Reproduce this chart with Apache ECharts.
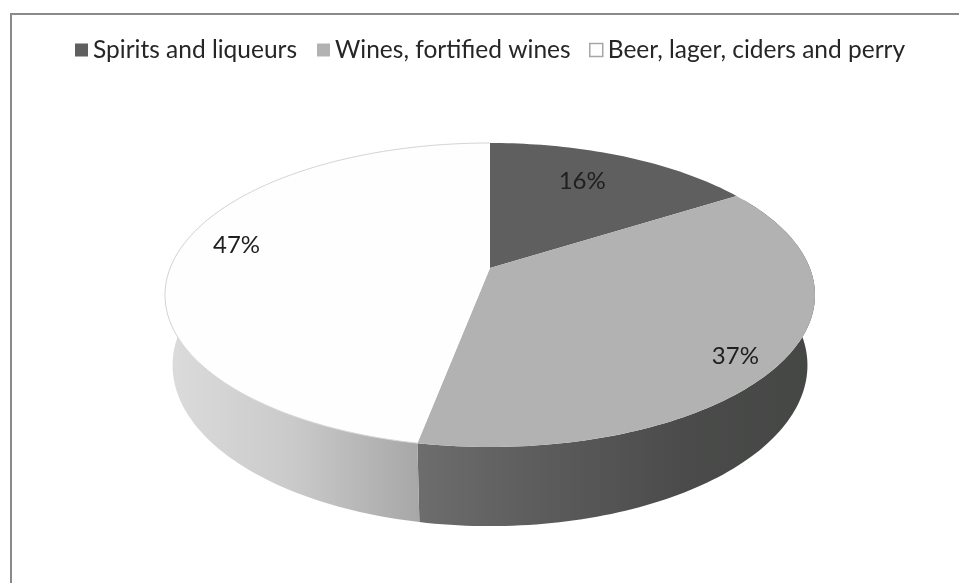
<!DOCTYPE html>
<html>
<head>
<meta charset="utf-8">
<script src="https://cdn.jsdelivr.net/npm/echarts@6/dist/echarts.min.js"></script>
<style>
  html, body { margin: 0; padding: 0; background: #ffffff; }
  #chart { width: 959px; height: 583px; }
</style>
</head>
<body>
<div id="chart"></div>
<script>
// Share of alcohol consumption by drink type (%)
const categories = ['Spirits and liqueurs', 'Wines, fortified wines', 'Beer, lager, ciders and perry'];
const shares = [16, 37, 47];

// Styling for each slice
const topColors = ['#5f5f5f', '#b2b2b2', '#fefefe'];
const wallColors = [
  ['#4a4a4a', '#3a3a3a'],
  ['#6d6d6d', '#5b5b5b', '#4a4b4a', '#454745'],
  ['#dcdcdc', '#cacaca', '#a7a7a7']
];
const rimColors = [null, null, '#d4d4d4'];
const legendBorder = [null, null, '#a6a6a6'];
const legendLeft = [75, 317, 589];
const labelRadius = [0.735, 0.88, 0.83];
const labelShift = [-2.8, 3.8, 5.6];

// Perspective view of a tilted disc: angles run clockwise from the back edge
const CX = 490, CY = 268, FOCAL = 1598.5, DIST = 4.998;
const SIN_T = 0.4603, COS_T = 0.8877, THICK = 0.25;
function project(thetaDeg, r, h) {
  const t = thetaDeg * Math.PI / 180;
  const u = r * Math.sin(t), w = r * Math.cos(t);
  const depth = w * COS_T - h * SIN_T;
  const up = h * COS_T + w * SIN_T;
  const k = FOCAL / (DIST + depth);
  return [CX + k * u, CY - k * up];
}

const total = shares.reduce((a, b) => a + b, 0);
const starts = [];
shares.reduce((acc, v, i) => { starts[i] = acc; return acc + v; }, 0);

function arc(a0, a1, r, h) {
  const steps = Math.max(6, Math.ceil((a1 - a0) / 1.2));
  const pts = [];
  for (let s = 0; s <= steps; s++) pts.push(project(a0 + (a1 - a0) * s / steps, r, h));
  return pts;
}

function renderSlice(i) {
  return function (params, api) {
    const a0 = api.value(0) / total * 360;
    const a1 = (api.value(0) + api.value(1)) / total * 360;
    const children = [];

    // outer wall, only the part turned toward the viewer
    const lo = Math.max(a0, 60), hi = Math.min(a1, 300);
    if (hi > lo) {
      const pts = arc(lo, hi, 1, 0).concat(arc(lo, hi, 1, -THICK).reverse());
      const stops = wallColors[i].map((c, j, arr) => ({ offset: j / (arr.length - 1), color: c }));
      children.push({
        type: 'polygon', z2: 1,
        shape: { points: pts },
        style: { fill: new echarts.graphic.LinearGradient(0, 0, 1, 0, stops) }
      });
    }

    // top face
    const topPts = [project(0, 0, 0)].concat(arc(a0, a1, 1, 0));
    children.push({
      type: 'polygon', z2: 10,
      shape: { points: topPts },
      style: { fill: topColors[i] }
    });
    if (rimColors[i]) {
      children.push({
        type: 'polyline', z2: 11,
        shape: { points: arc(a0, a1, 1, 0) },
        style: { fill: null, stroke: rimColors[i], lineWidth: 1 }
      });
    }

    // percentage label
    const mid = (a0 + a1) / 2 + labelShift[i];
    const p = project(mid, labelRadius[i], 0);
    children.push({
      type: 'text', z2: 20,
      x: p[0], y: p[1],
      style: {
        text: api.value(1) + '%',
        fill: '#1f1f1f',
        font: '24px Lato',
        align: 'center',
        verticalAlign: 'middle'
      }
    });
    return { type: 'group', children };
  };
}

const chart = echarts.init(document.getElementById('chart'), null, { renderer: 'canvas' });

chart.setOption({
  backgroundColor: '#ffffff',
  animation: false,
  graphic: [{
    type: 'rect',
    shape: { x: 11, y: 14, width: 1200, height: 900 },
    style: { fill: null, stroke: '#8a8a8a', lineWidth: 2 },
    silent: true
  }],
  legend: categories.map((name, i) => ({
    data: [{
      name: name,
      icon: 'rect',
      itemStyle: {
        color: topColors[i],
        borderColor: legendBorder[i] || topColors[i],
        borderWidth: legendBorder[i] ? 1.5 : 0
      }
    }],
    left: legendLeft[i],
    top: 37,
    padding: 0,
    itemWidth: 13,
    itemHeight: 13,
    selectedMode: false,
    textStyle: { fontFamily: 'Lato', fontSize: 24.5, color: '#262626', lineHeight: 26 }
  })),
  series: categories.map((name, i) => ({
    type: 'custom',
    name: name,
    coordinateSystem: 'none',
    itemStyle: { color: topColors[i] },
    renderItem: renderSlice(i),
    data: [[starts[i], shares[i]]]
  }))
});
</script>
</body>
</html>
